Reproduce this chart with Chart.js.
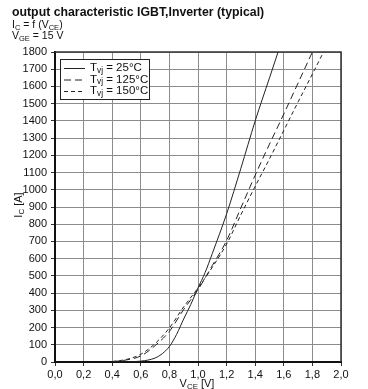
<!DOCTYPE html>
<html>
<head>
<meta charset="utf-8">
<script src="https://cdn.jsdelivr.net/npm/chart.js@4/dist/chart.umd.min.js"></script>
<style>
  html, body { margin: 0; padding: 0; background: #fff; }
  #wrap { position: relative; width: 368px; height: 389px; }
</style>
</head>
<body>
<div id="wrap"><canvas id="chart" width="368" height="389"></canvas></div>
<script>
// values (VCE in V, IC in A)
const vce25  = [0.4, 0.5, 0.6, 0.7, 0.75, 0.8, 0.85, 0.9, 0.95, 1.0, 1.05, 1.1, 1.2, 1.3, 1.4, 1.5, 1.56];
const ic25   = [0, 1, 5, 23, 48, 90, 160, 250, 335, 430, 520, 630, 860, 1125, 1400, 1650, 1800];
const vce125 = [0.4, 0.5, 0.6, 0.7, 0.8, 0.9, 1.0, 1.1, 1.2, 1.3, 1.4, 1.5, 1.6, 1.7, 1.8];
const ic125  = [2, 12, 35, 95, 178, 305, 420, 560, 705, 895, 1085, 1265, 1440, 1620, 1800];
const vce150 = [0.4, 0.5, 0.6, 0.7, 0.8, 0.9, 1.0, 1.1, 1.2, 1.3, 1.4, 1.5, 1.6, 1.7, 1.8, 1.878];
const ic150  = [3, 15, 45, 107, 198, 320, 430, 550, 685, 855, 1020, 1180, 1345, 1510, 1672, 1800];
const seriesLabels = ['25°C', '125°C', '150°C'];
const seriesDash = [[], [7, 4], [4, 3]];

const FONT = '"Liberation Sans", Arial, sans-serif';
const INK = '#111';

function pts(xs, ys) { return xs.map((x, i) => ({ x, y: ys[i] })); }

// draws text made of [string, isSubscript] parts, returns end x
function drawParts(ctx, parts, x, y, size, bold) {
  let cx = x;
  parts.forEach(([t, sub]) => {
    const s = sub ? size * 0.72 : size;
    ctx.font = (bold ? 'bold ' : '') + s + 'px ' + FONT;
    ctx.fillText(t, cx, sub ? y + size * 0.22 : y);
    cx += ctx.measureText(t).width;
  });
  return cx;
}
function partsWidth(ctx, parts, size) {
  let w = 0;
  parts.forEach(([t, sub]) => {
    ctx.font = (sub ? size * 0.72 : size) + 'px ' + FONT;
    w += ctx.measureText(t).width;
  });
  return w;
}

const decorPlugin = {
  id: 'decor',
  afterDatasetsDraw(chart) {
    const ctx = chart.ctx;
    const a = chart.chartArea;
    ctx.save();
    // frame: top and right
    ctx.strokeStyle = '#333';
    ctx.lineWidth = 1.5;
    ctx.beginPath();
    ctx.moveTo(a.left, a.top); ctx.lineTo(a.right, a.top); ctx.lineTo(a.right, a.bottom);
    ctx.stroke();

    // legend box
    const lx = 60, ly = 59, lw = 89, lh = 40;
    ctx.fillStyle = '#fff';
    ctx.fillRect(lx, ly, lw, lh);
    ctx.strokeStyle = '#222';
    ctx.lineWidth = 1;
    ctx.strokeRect(lx + 0.5, ly + 0.5, lw, lh);
    ctx.fillStyle = INK;
    ctx.textBaseline = 'middle';
    ctx.textAlign = 'left';
    seriesLabels.forEach((lab, i) => {
      const y = ly + 9 + i * 11.5;
      ctx.setLineDash(seriesDash[i]);
      ctx.strokeStyle = '#222';
      ctx.lineWidth = 1;
      ctx.beginPath(); ctx.moveTo(lx + 4, y + 0.5); ctx.lineTo(lx + 25, y + 0.5); ctx.stroke();
      ctx.setLineDash([]);
      drawParts(ctx, [['T', false], ['vj', true], [' = ' + lab, false]], lx + 30, y, 11.5, false);
    });

    // header text
    ctx.textBaseline = 'alphabetic';
    drawParts(ctx, [['output characteristic IGBT,Inverter (typical)', false]], 12, 16, 12.3, true);
    drawParts(ctx, [['I', false], ['C', true], [' = f (V', false], ['CE', true], [')', false]], 12, 27.5, 10.5, false);
    drawParts(ctx, [['V', false], ['GE', true], [' = 15 V', false]], 12, 38.5, 10.5, false);

    // x axis title
    const xt = [['V', false], ['CE', true], [' [V]', false]];
    drawParts(ctx, xt, 197 - partsWidth(ctx, xt, 11) / 2, 387, 11, false);

    // y axis title (rotated)
    const yt = [['I', false], ['C', true], [' [A]', false]];
    ctx.translate(22, 205);
    ctx.rotate(-Math.PI / 2);
    drawParts(ctx, yt, -partsWidth(ctx, yt, 11) / 2, 0, 11, false);
    ctx.restore();
  }
};

const tickFont = { family: FONT, size: 11 };

new Chart(document.getElementById('chart'), {
  type: 'line',
  data: {
    datasets: [
      { label: 'Tvj = 25°C', data: pts(vce25, ic25), borderColor: '#222', borderWidth: 1, borderDash: seriesDash[0], pointRadius: 0, cubicInterpolationMode: 'monotone', fill: false },
      { label: 'Tvj = 125°C', data: pts(vce125, ic125), borderColor: '#222', borderWidth: 1, borderDash: seriesDash[1], pointRadius: 0, cubicInterpolationMode: 'monotone', fill: false },
      { label: 'Tvj = 150°C', data: pts(vce150, ic150), borderColor: '#222', borderWidth: 1, borderDash: seriesDash[2], pointRadius: 0, cubicInterpolationMode: 'monotone', fill: false }
    ]
  },
  options: {
    responsive: false, animation: false, devicePixelRatio: 1,
    layout: { padding: { left: 0, top: 52, right: 27, bottom: 0 } },
    plugins: { legend: { display: false }, tooltip: { enabled: false } },
    scales: {
      x: {
        type: 'linear', min: 0, max: 2,
        afterFit: s => { s.height = 27; },
        ticks: { stepSize: 0.2, color: INK, font: tickFont, padding: 2, maxRotation: 0,
                 callback: v => v.toFixed(1).replace('.', ',') },
        grid: { color: '#8c8c8c', lineWidth: 1, tickLength: 4, tickColor: '#333' },
        border: { color: '#111', width: 2 }
      },
      y: {
        min: 0, max: 1800,
        afterFit: s => { s.width = 55; },
        ticks: { stepSize: 100, color: INK, font: tickFont, padding: 4, callback: v => String(v) },
        grid: { color: '#8c8c8c', lineWidth: 1, tickLength: 4, tickColor: '#333' },
        border: { color: '#111', width: 2 }
      }
    }
  },
  plugins: [decorPlugin]
});
</script>
</body>
</html>
